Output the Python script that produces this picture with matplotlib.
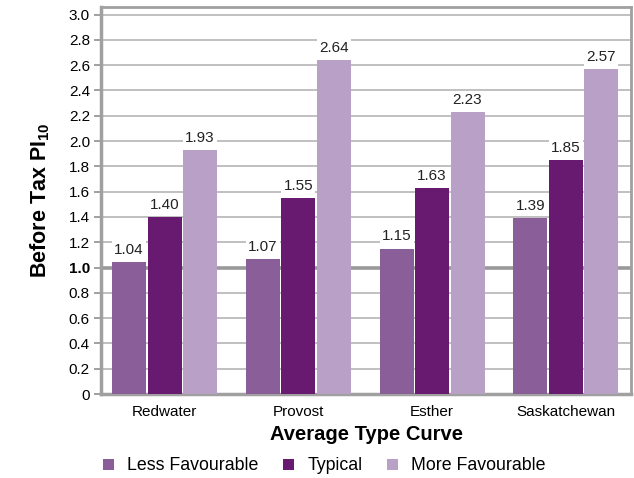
import numpy as np
import matplotlib.pyplot as plt

plt.rcParams['font.family'] = ['Liberation Sans', 'DejaVu Sans']
plt.rcParams['mathtext.fontset'] = 'custom'
plt.rcParams['mathtext.bf'] = 'Liberation Sans:bold'
plt.rcParams['mathtext.rm'] = 'Liberation Sans'

# data
regions = ['Redwater', 'Provost', 'Esther', 'Saskatchewan']
series = ['Less Favourable', 'Typical', 'More Favourable']
less_fav = [1.04, 1.07, 1.15, 1.39]
typical = [1.40, 1.55, 1.63, 1.85]
more_fav = [1.93, 2.64, 2.23, 2.57]
colors = ['#895E99', '#671A70', '#B8A0C6']
yticks = [0, 0.2, 0.4, 0.6, 0.8, 1.0, 1.2, 1.4, 1.6, 1.8, 2.0, 2.2, 2.4, 2.6, 2.8, 3.0]

fig = plt.figure(figsize=(6.34, 4.78), dpi=100)
ax = fig.add_axes([101 / 634, 1 - 394 / 478, 530 / 634, 387 / 478])

x = np.arange(len(regions))
width = 0.254
step = 0.265
handles = []
for i, (vals, col) in enumerate(zip([less_fav, typical, more_fav], colors)):
    pos = x + (i - 1) * step
    b = ax.bar(pos, vals, width=width, color=col, label=series[i], zorder=3)
    handles.append(b)
    for px, v in zip(pos, vals):
        ax.text(px, v + 0.04, f'{v:.2f}', ha='center', va='bottom', fontsize=11,
                color='#222222', zorder=4,
                bbox=dict(facecolor='white', edgecolor='none', pad=1.5))

# grid lines
for t in yticks[1:]:
    if abs(t - 1.0) < 1e-9:
        ax.axhline(t, color='#999999', lw=2.6, zorder=1)
    else:
        ax.axhline(t, color='#BBBBBB', lw=1.3, zorder=1)

ax.set_xlim(-0.475, 3.487)
ax.set_ylim(0, 3.06)
ax.set_yticks(yticks)
labels = ['0'] + [f'{t:.1f}' for t in yticks[1:]]
ax.set_yticklabels(labels, fontsize=11)
for lab in ax.get_yticklabels():
    if lab.get_text() == '1.0':
        lab.set_fontweight('bold')
ax.set_xticks(x)
ax.set_xticklabels(regions, fontsize=11)
ax.tick_params(axis='y', direction='out', length=5, color='#999999', width=1.3, pad=3)
ax.tick_params(axis='x', length=0, pad=8)

for s in ax.spines.values():
    s.set_color('#A0A0A0')
    s.set_linewidth(2)
ax.spines['left'].set_linewidth(2.5)
ax.spines['bottom'].set_linewidth(2.5)

ax.set_ylabel('Before Tax PI$_{\\mathbf{10}}$', fontsize=15.5, fontweight='bold', labelpad=12)
ax.set_xlabel('Average Type Curve', fontsize=14.5, fontweight='bold', labelpad=4)

fig.legend(handles=handles, labels=series, loc='center', bbox_to_anchor=(324.5 / 634, 1 - 466 / 478),
           ncol=3, frameon=False, fontsize=12.8, handlelength=0.6, handleheight=0.6,
           handletextpad=0.75, columnspacing=1.4, borderpad=0)

fig.savefig('out.png', dpi=100)
